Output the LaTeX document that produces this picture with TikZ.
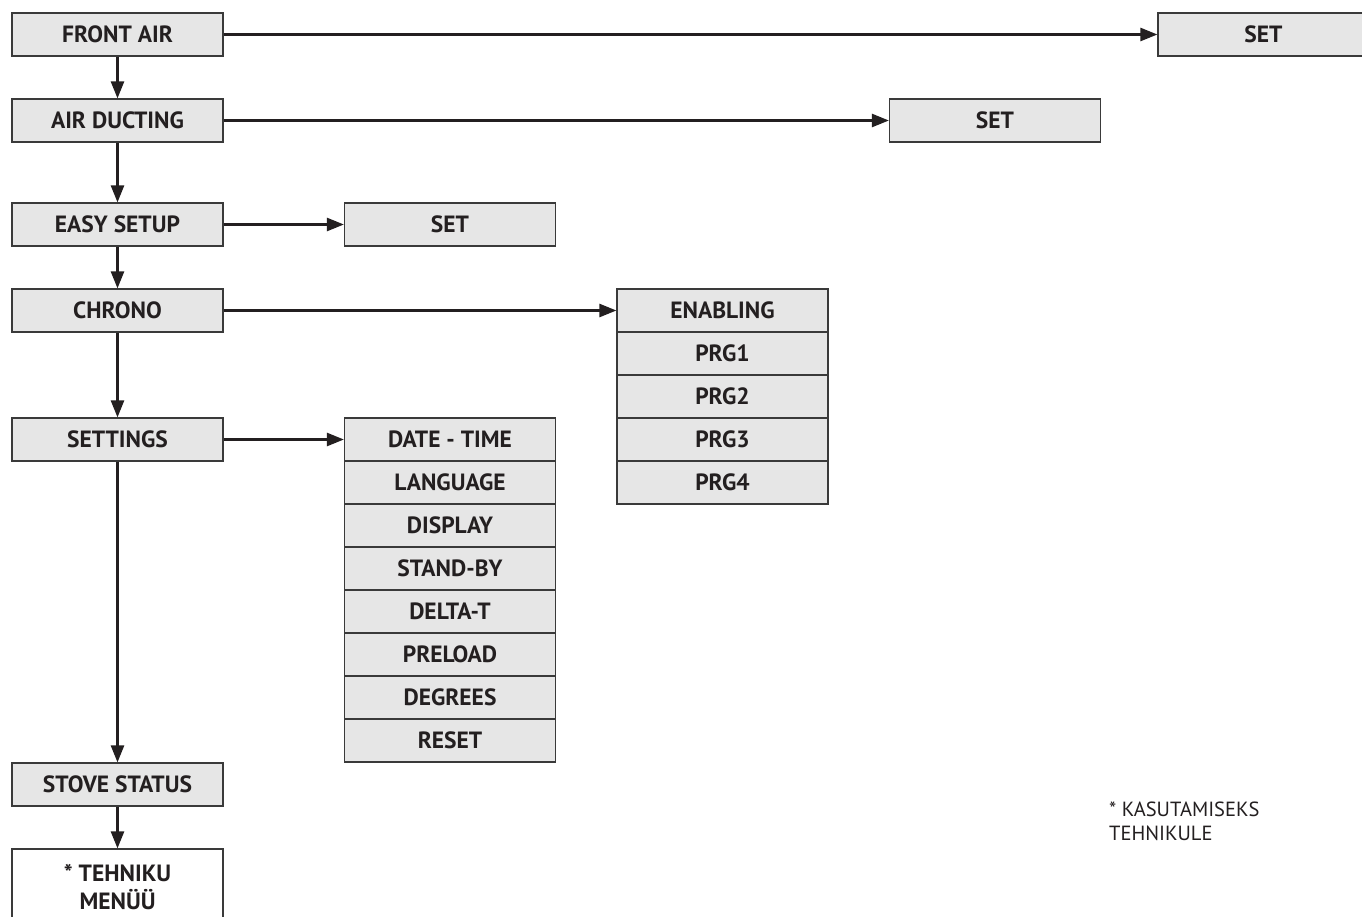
\documentclass[tikz,border=0pt]{standalone}
\usepackage{fontspec}
\setmainfont{PT Sans}
\usetikzlibrary{arrows.meta}
\definecolor{boxfill}{HTML}{E6E6E6}
\definecolor{boxline}{HTML}{3A3A3A}
\definecolor{txt}{HTML}{231F20}
\begin{document}
\begin{tikzpicture}[x=1pt,y=-1pt,
  box/.style={draw=boxline,line width=1.2pt,fill=boxfill,minimum width=211pt,minimum height=43pt,inner sep=0pt,font=\fontsize{23.5}{28}\selectfont\bfseries,text=txt},
  wbox/.style={box,fill=white},
  arr/.style={draw=txt,line width=2.5pt,-{Triangle[length=17pt,width=13pt]}},
  note/.style={font=\fontsize{20.5}{24}\selectfont,text=txt,align=left,inner sep=0pt,anchor=north west}]
\clip (0,0) rectangle (1362,917);
\fill[white] (0,0) rectangle (1362,917);
% left column
\node[box] (fa) at (117.5,34.5) {FRONT AIR};
\node[box] (ad) at (117.5,120.5) {AIR DUCTING};
\node[box] (es) at (117.5,224.5) {EASY SETUP};
\node[box] (ch) at (117.5,310.5) {CHRONO};
\node[box] (se) at (117.5,439.5) {SETTINGS};
\node[box] (ss) at (117.5,784.5) {STOVE STATUS};
\node[wbox,minimum height=76pt,align=center,font=\fontsize{23.5}{28}\selectfont\bfseries] (tm) at (117.5,887) {* TEHNIKU\\MENÜÜ};
% set boxes
\node[box] (set1) at (1263.5,34.5) {SET};
\node[box] (set2) at (995,120.5) {SET};
\node[box] (set3) at (450,224.5) {SET};
% chrono list
\node[box] (en) at (722.5,310.5) {ENABLING};
\node[box] (p1) at (722.5,353.5) {PRG1};
\node[box] (p2) at (722.5,396.5) {PRG2};
\node[box] (p3) at (722.5,439.5) {PRG3};
\node[box] (p4) at (722.5,482.5) {PRG4};
% settings list
\node[box] (dt) at (450,439.5) {DATE - TIME};
\node[box] (la) at (450,482.5) {LANGUAGE};
\node[box] (di) at (450,525.5) {DISPLAY};
\node[box] (sb) at (450,568.5) {STAND-BY};
\node[box] (dtt) at (450,611.5) {DELTA-T};
\node[box] (pl) at (450,654.5) {PRELOAD};
\node[box] (de) at (450,697.5) {DEGREES};
\node[box] (rs) at (450,740.5) {RESET};
% vertical arrows
\draw[arr] (fa) -- (ad);
\draw[arr] (ad) -- (es);
\draw[arr] (es) -- (ch);
\draw[arr] (ch) -- (se);
\draw[arr] (se) -- (ss);
\draw[arr] (ss) -- (tm);
% horizontal arrows
\draw[arr] (fa) -- (set1);
\draw[arr] (ad) -- (set2);
\draw[arr] (es) -- (set3);
\draw[arr] (ch) -- (en);
\draw[arr] (se) -- (dt);
% note
\node[note] (nt) at (1109,802) {* KASUTAMISEKS\\TEHNIKULE};
\end{tikzpicture}
\end{document}
